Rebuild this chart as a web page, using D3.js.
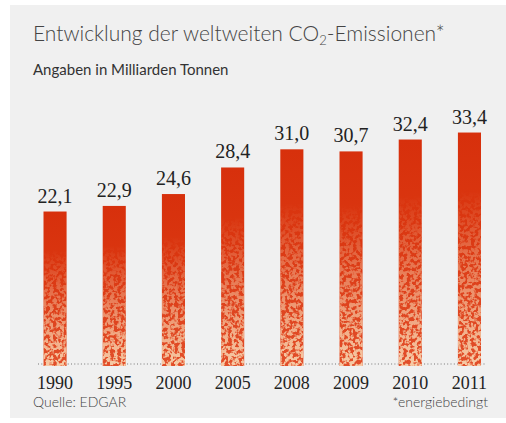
<!DOCTYPE html>
<html>
<head>
<meta charset="utf-8">
<script src="https://cdn.jsdelivr.net/npm/d3@7"></script>
<style>
  body { margin: 0; background: #fff; }
  svg { display: block; }
</style>
</head>
<body>
<svg width="506" height="423"></svg>
<script>
// data
const years = ["1990", "1995", "2000", "2005", "2008", "2009", "2010", "2011"];
const emissions = [22.1, 22.9, 24.6, 28.4, 31.0, 30.7, 32.4, 33.4];
const valueLabels = ["22,1", "22,9", "24,6", "28,4", "31,0", "30,7", "32,4", "33,4"];

const svg = d3.select("svg");

// grey panel
svg.append("rect")
  .attr("x", 10).attr("y", 5)
  .attr("width", 496).attr("height", 413)
  .style("fill", "#f0f0f0");

const defs = svg.append("defs");

const grad = defs.append("linearGradient")
  .attr("id", "barGrad")
  .attr("x1", 0).attr("y1", 0).attr("x2", 0).attr("y2", 1);
grad.append("stop").attr("offset", "0%").attr("stop-color", "#d7300c");
grad.append("stop").attr("offset", "35%").attr("stop-color", "#da3610");
grad.append("stop").attr("offset", "100%").attr("stop-color", "#e24f2a");

const fade = defs.append("linearGradient")
  .attr("id", "speckFade")
  .attr("x1", 0).attr("y1", 0).attr("x2", 0).attr("y2", 1);
fade.append("stop").attr("offset", "0%").attr("stop-color", "#fff").attr("stop-opacity", 0);
fade.append("stop").attr("offset", "25%").attr("stop-color", "#fff").attr("stop-opacity", 0);
fade.append("stop").attr("offset", "100%").attr("stop-color", "#fff").attr("stop-opacity", 1);

// speckle texture
const f = defs.append("filter")
  .attr("id", "speck")
  .attr("x", 0).attr("y", 0).attr("width", 1).attr("height", 1);
f.append("feTurbulence")
  .attr("type", "fractalNoise")
  .attr("baseFrequency", 0.28)
  .attr("numOctaves", 2)
  .attr("seed", 4)
  .attr("result", "noise");
f.append("feColorMatrix")
  .attr("in", "noise")
  .attr("type", "matrix")
  .attr("values", "0 0 0 0 0  0 0 0 0 0  0 0 0 0 0  7 0 0 0 -2.9")
  .attr("result", "mask");
f.append("feFlood").attr("flood-color", "#f6cba6").attr("result", "cream");
f.append("feComposite").attr("in", "cream").attr("in2", "mask").attr("operator", "in").attr("result", "sp");
f.append("feComposite").attr("in", "sp").attr("in2", "SourceAlpha").attr("operator", "in");

const x = d3.scaleBand()
  .domain(years)
  .range([43.5, 481])
  .paddingInner(0.61)
  .paddingOuter(0);

const y = d3.scaleLinear()
  .domain([0, 35])
  .range([366, 366 - 35 * 6.99]);

// dotted baseline
svg.append("line")
  .attr("x1", 38).attr("x2", 486)
  .attr("y1", 364).attr("y2", 364)
  .style("stroke", "#777")
  .style("stroke-width", 1)
  .style("stroke-dasharray", "1,2.3");

const bars = svg.append("g").selectAll("g")
  .data(emissions)
  .join("g");

bars.append("rect")
  .attr("x", (d, i) => x(years[i]))
  .attr("y", d => y(d))
  .attr("width", x.bandwidth())
  .attr("height", d => y(0) - y(d))
  .style("fill", "url(#barGrad)");

bars.append("rect")
  .attr("x", (d, i) => x(years[i]))
  .attr("y", d => y(d))
  .attr("width", x.bandwidth())
  .attr("height", d => y(0) - y(d))
  .style("fill", "url(#speckFade)")
  .attr("filter", "url(#speck)");

// value labels
bars.append("text")
  .attr("x", (d, i) => x(years[i]) + x.bandwidth() / 2)
  .attr("y", d => y(d) - 9)
  .attr("text-anchor", "middle")
  .style("font-family", "'Liberation Serif', serif")
  .style("font-size", "20px")
  .style("fill", "#222")
  .text((d, i) => valueLabels[i]);

// year axis
const xAxis = svg.append("g")
  .attr("transform", "translate(0,371)")
  .call(d3.axisBottom(x).tickSize(0).tickPadding(0));
xAxis.select(".domain").remove();
xAxis.selectAll("text")
  .attr("dy", "0")
  .attr("y", 18)
  .style("font-family", "'Liberation Serif', serif")
  .style("font-size", "18px")
  .style("fill", "#222");

// titles
const title = svg.append("text")
  .attr("x", 33).attr("y", 41)
  .style("font-family", "Lato, sans-serif")
  .style("font-weight", 300)
  .style("font-size", "21px")
  .style("fill", "#444");
title.append("tspan").text("Entwicklung der weltweiten CO");
title.append("tspan").attr("dy", 4).style("font-size", "13px").text("2");
title.append("tspan").attr("dy", -4).text("-Emissionen*");

svg.append("text")
  .attr("x", 33).attr("y", 75)
  .style("font-family", "Lato, sans-serif")
  .style("font-size", "15px")
  .style("fill", "#333")
  .text("Angaben in Milliarden Tonnen");

svg.append("text")
  .attr("x", 33).attr("y", 407)
  .style("font-family", "Lato, sans-serif")
  .style("font-weight", 300)
  .style("font-size", "14px")
  .style("fill", "#444")
  .text("Quelle: EDGAR");

svg.append("text")
  .attr("x", 488).attr("y", 407)
  .attr("text-anchor", "end")
  .style("font-family", "Lato, sans-serif")
  .style("font-weight", 300)
  .style("font-size", "14px")
  .style("fill", "#444")
  .text("*energiebedingt");
</script>
</body>
</html>
